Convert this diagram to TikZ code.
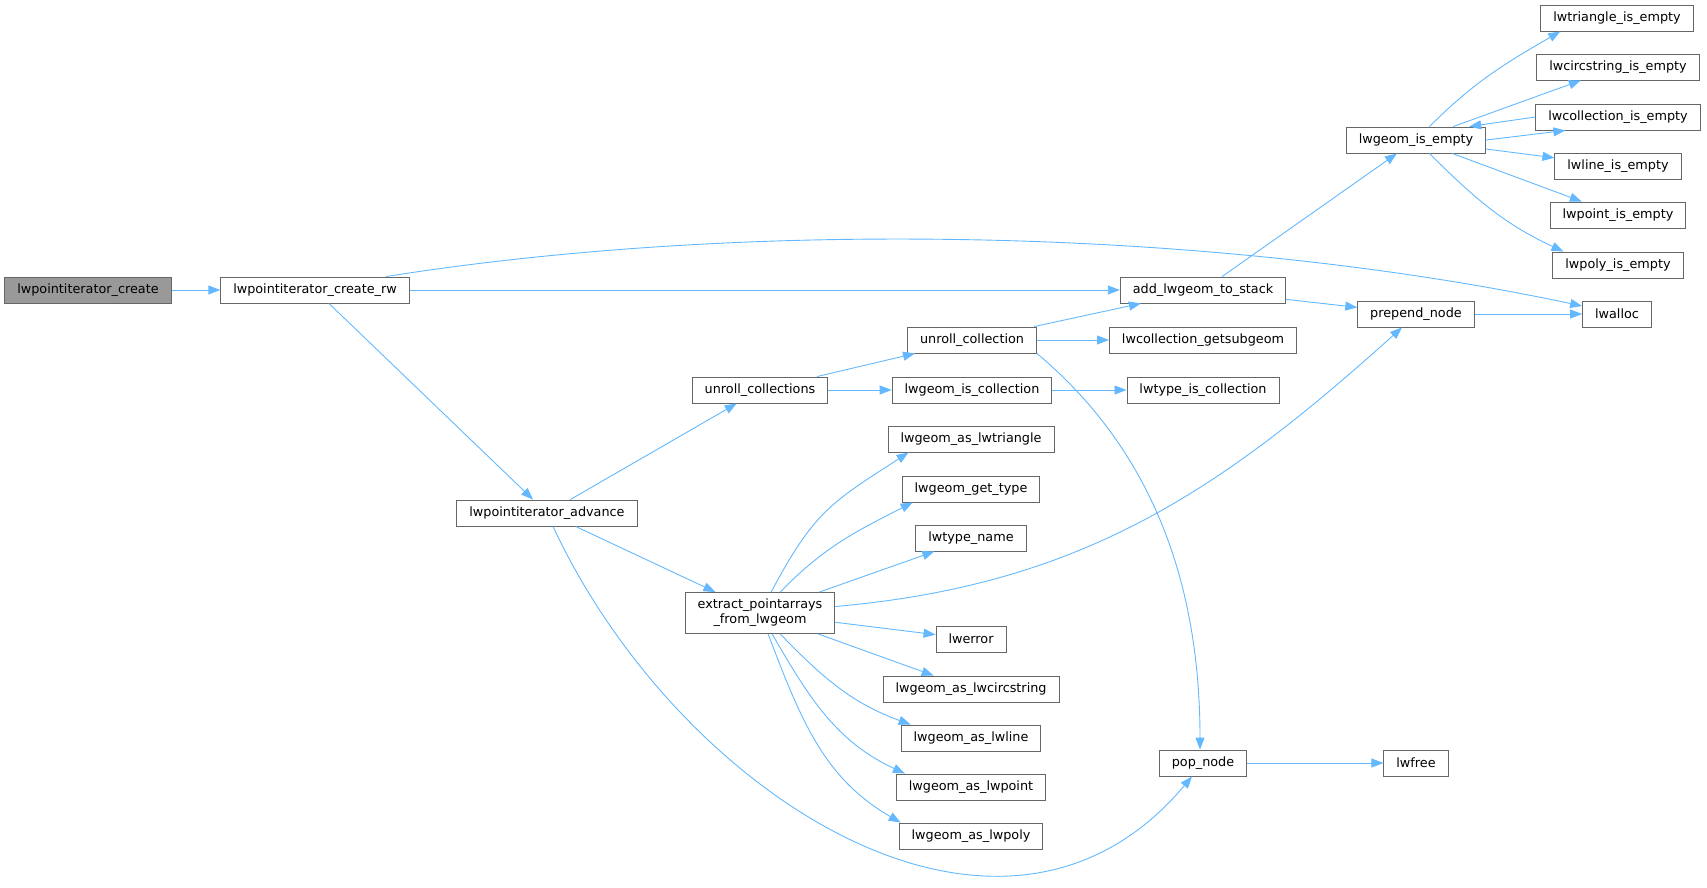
\documentclass[tikz,border=0pt]{standalone}
\usepackage{fontspec}
\setmainfont{DejaVu Sans}
\usepackage{tikz}
\usetikzlibrary{arrows.meta}
\definecolor{edgeblue}{HTML}{63B8FF}
\definecolor{boxgray}{HTML}{666666}
\definecolor{rootgray}{HTML}{999999}
\tikzset{
  fn/.style={draw=boxgray, fill=white, line width=0.9pt, rectangle, inner xsep=12.5pt, inner ysep=2pt, minimum height=26pt, font=\fontsize{12.8}{15}\selectfont},
  root/.style={fn, fill=rootgray},
  call/.style={edgeblue, line width=0.9pt, -{Triangle[length=12pt,width=9pt]}}
}

\begin{document}
\begin{tikzpicture}[x=1pt,y=-1pt]
\useasboundingbox (0,0) rectangle (1707,888);
\node[root] (create)   at (88,290)   {lwpointiterator\_create};
\node[fn]   (createrw) at (315,290)  {lwpointiterator\_create\_rw};
\node[fn]   (advance)  at (547,513)  {lwpointiterator\_advance};
\node[fn]   (ucolls)   at (760,390)  {unroll\_collections};
\node[fn]   (ucoll)    at (972,340)  {unroll\_collection};
\node[fn]   (gcoll)    at (972,390)  {lwgeom\_is\_collection};
\node[fn]   (tcoll)    at (1203,390) {lwtype\_is\_collection};
\node[fn]   (subgeom)  at (1203,340) {lwcollection\_getsubgeom};
\node[fn]   (addstack) at (1203,290) {add\_lwgeom\_to\_stack};
\node[fn]   (gempty)   at (1416,140) {lwgeom\_is\_empty};
\node[fn]   (prepend)  at (1416,314) {prepend\_node};
\node[fn]   (lwalloc)  at (1617,314) {lwalloc};
\node[fn]   (trie)     at (1617,18)  {lwtriangle\_is\_empty};
\node[fn]   (circe)    at (1618,67)  {lwcircstring\_is\_empty};
\node[fn]   (colle)    at (1618,117) {lwcollection\_is\_empty};
\node[fn]   (linee)    at (1618,166) {lwline\_is\_empty};
\node[fn]   (pointe)   at (1618,215) {lwpoint\_is\_empty};
\node[fn]   (polye)    at (1618,265) {lwpoly\_is\_empty};
\node[fn, align=center, minimum height=41pt] (extract) at (760,613) {extract\_pointarrays\\\_from\_lwgeom};
\node[fn]   (astri)    at (971,439)  {lwgeom\_as\_lwtriangle};
\node[fn]   (gtype)    at (971,489)  {lwgeom\_get\_type};
\node[fn]   (tname)    at (971,538)  {lwtype\_name};
\node[fn]   (lwerror)  at (971,639)  {lwerror};
\node[fn]   (ascirc)   at (971,689)  {lwgeom\_as\_lwcircstring};
\node[fn]   (asline)   at (971,738)  {lwgeom\_as\_lwline};
\node[fn]   (aspoint)  at (971,787)  {lwgeom\_as\_lwpoint};
\node[fn]   (aspoly)   at (971,836)  {lwgeom\_as\_lwpoly};
\node[fn]   (pop)      at (1203,763) {pop\_node};
\node[fn]   (lwfree)   at (1416,763) {lwfree};

\draw[call] (create) -- (createrw);
\draw[call] (createrw) -- (addstack);
\draw[call] ([xshift=71pt]createrw.north) .. controls +(9:373pt) and +(168:373pt) .. ([yshift=8pt]lwalloc.west);
\draw[call] (createrw) -- (advance);
\draw[call] (advance) -- (ucolls);
\draw[call] (advance) -- (extract);
\draw[call] ([xshift=6pt]advance.south) .. controls +(-65:296pt) and +(230:296pt) .. ([xshift=-11pt]pop.south);
\draw[call] (ucolls) -- (ucoll);
\draw[call] (ucolls) -- (gcoll);
\draw[call] (ucoll) -- (addstack);
\draw[call] (ucoll) -- (subgeom);
\draw[call] (ucoll.south east) .. controls +(-40:130pt) and +(90:190pt) .. ([xshift=-3pt]pop.north);
\draw[call] (gcoll) -- (tcoll);
\draw[call] (addstack) -- (gempty);
\draw[call] (addstack) -- (prepend);
\draw[call] (prepend) -- (lwalloc);
\draw[call] (pop) -- (lwfree);
\draw[call] (gempty) to[out=45,in=210] ([xshift=20pt]trie.south west);
\draw[call] (gempty) -- (circe);
\draw[call] (gempty.east) -- ([xshift=30pt]colle.south west);
\draw[call] (colle.west) -- ([xshift=-17pt]gempty.north east);
\draw[call] (gempty) -- (linee);
\draw[call] (gempty) -- (pointe);
\draw[call] (gempty) to[out=-45,in=155] ([xshift=11pt]polye.north west);
\draw[call] (extract) to[out=62,in=213,looseness=1.2] ([xshift=21pt]astri.south west);
\draw[call] (extract) to[out=46,in=207] ([xshift=11pt]gtype.south west);
\draw[call] (extract) -- ([xshift=19pt]tname.south west);
\draw[call] ([yshift=6.5pt]extract.east) .. controls +(5:246pt) and +(222:246pt) .. ([xshift=-14pt]prepend.south);
\draw[call] (extract) -- (lwerror);
\draw[call] (extract) -- (ascirc);
\draw[call] (extract) to[out=-46,in=160] ([xshift=10pt]asline.north west);
\draw[call] (extract) to[out=-60,in=155] ([xshift=9pt]aspoint.north west);
\draw[call] (extract) to[out=-69,in=150] ([xshift=2pt]aspoly.north west);
\end{tikzpicture}
\end{document}
